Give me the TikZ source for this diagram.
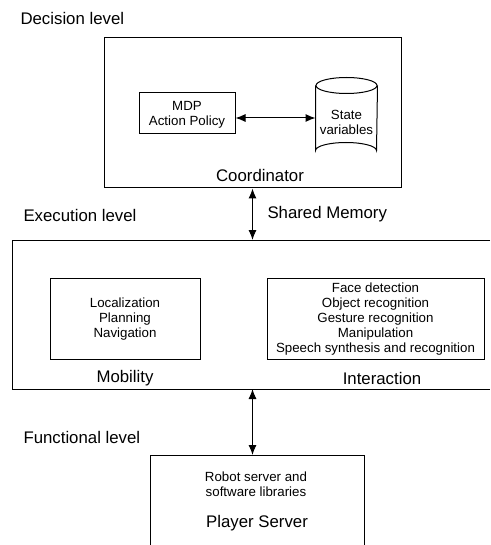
\documentclass[tikz,border=0pt]{standalone}
\usepackage{fontspec}
\setmainfont{Liberation Sans}
\usetikzlibrary{arrows.meta}
\begin{document}
\begin{tikzpicture}[x=1pt,y=-1pt,
  line width=1pt,
  big/.style={font=\fontsize{16.8}{20}\selectfont, inner sep=0pt},
  small/.style={font=\fontsize{13.3}{15}\selectfont, align=center, inner sep=0pt},
  boxed/.style={draw, line width=1pt, inner sep=0pt},
  dblarrow/.style={{Latex[length=10pt,width=8pt]}-{Latex[length=10pt,width=8pt]}, line width=1pt}]
\useasboundingbox (0,0) rectangle (490,545);
\fill[white] (0,0) rectangle (490,545);

% Decision level
\node[big, anchor=west] (declab) at (20,18) {Decision level};
\node[boxed, minimum width=297pt, minimum height=150pt] (coord) at (252.5,113) {};
\node[big] (coordlab) at (260,175) {Coordinator};
\node[boxed, minimum width=96pt, minimum height=41pt] (mdp) at (187,113.5) {};
\node[small] (mdptext) at (187,114.5) {MDP\\Action Policy};
% cylinder
\node[minimum width=61pt, minimum height=80pt, inner sep=0pt] (sv) at (346.5,118) {};
\draw ([yshift=-8pt]sv.north west) -- ([yshift=8pt]sv.south west)
  arc[start angle=180, end angle=360, x radius=30.5, y radius=8]
  -- ([yshift=-8pt]sv.north east);
\draw ([yshift=-8pt]sv.north) ellipse [x radius=30.5, y radius=8];
\node[small] (svtext) at (346.5,122.5) {State\\variables};
\draw[dblarrow] (mdp.east |- sv.west) -- (sv.west);

% Execution level
\node[big, anchor=west] (execlab) at (23,215) {Execution level};
\node[big, anchor=west] (shmem) at (267,214) {Shared Memory};
\draw (490,240) -- (12,240) -- (12,389) -- (490,389);
\coordinate (exectop) at (252.5,240);
\coordinate (execbot) at (252.5,389);
\draw[dblarrow] (coord.south) -- (exectop);

\node[boxed, minimum width=150pt, minimum height=81pt] (mob) at (125,318.5) {};
\node[small] (mobtext) at (125,319.5) {Localization\\Planning\\Navigation};
\node[big] (moblab) at (125,378) {Mobility};

\node[boxed, minimum width=217pt, minimum height=81pt] (inter) at (375.5,318.5) {};
\node[small] (intertext) at (375.5,319.5) {Face detection\\Object recognition\\Gesture recognition\\Manipulation\\Speech synthesis and recognition};
\node[big] (interlab) at (382,378) {Interaction};

% Functional level
\node[big, anchor=west] (funclab) at (23,437) {Functional level};
\draw (150,550) -- (150,455) -- (364,455) -- (364,550);
\coordinate (pstop) at (252.5,455);
\draw[dblarrow] (execbot) -- (pstop);
\node[small] (pstext) at (256,484.5) {Robot server and\\software libraries};
\node[big] (pslab) at (257,523) {Player Server};
\end{tikzpicture}
\end{document}
